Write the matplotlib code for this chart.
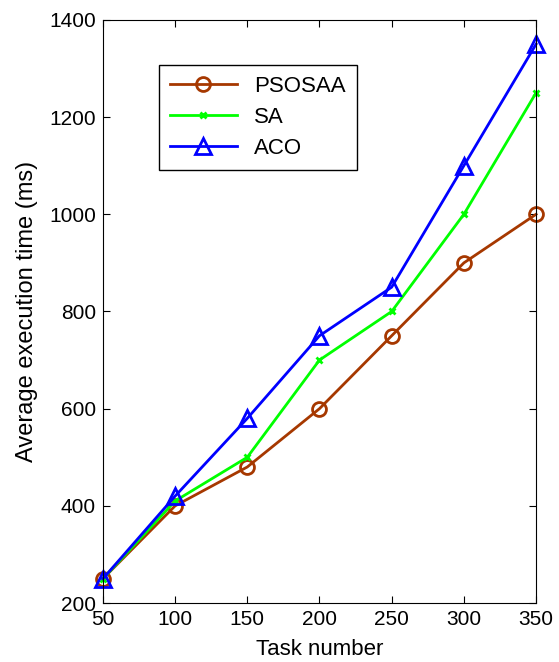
import numpy as np
import matplotlib
matplotlib.use("Agg")
import matplotlib.pyplot as plt

plt.rcParams['font.family'] = ['Liberation Sans', 'DejaVu Sans']

task_number = [50, 100, 150, 200, 250, 300, 350]
psosaa = [250, 400, 480, 600, 750, 900, 1000]
sa = [250, 410, 500, 700, 800, 1000, 1250]
aco = [250, 420, 580, 750, 850, 1100, 1350]

fig = plt.figure(figsize=(5.59, 6.62), dpi=100)
ax = fig.add_axes([0.184, 0.089, 0.775, 0.881])

ax.plot(task_number, psosaa, color=(0.65, 0.22, 0.0), lw=2, marker='o', ms=10,
        mfc='none', mew=2, label='PSOSAA', clip_on=False)
ax.plot(task_number, sa, color=(0.0, 1.0, 0.0), lw=2, marker='x', ms=5,
        mew=2, label='SA', clip_on=False)
ax.plot(task_number, aco, color=(0.0, 0.0, 1.0), lw=2, marker='^', ms=11,
        mfc='none', mew=2, label='ACO', clip_on=False)

ax.set_xlim(50, 350)
ax.set_ylim(200, 1400)
ax.set_xticks(np.arange(50, 351, 50))
ax.set_yticks(np.arange(200, 1401, 200))
ax.tick_params(direction='in', top=True, right=True, labelsize=15, length=5, pad=5)
ax.set_xlabel('Task number', fontsize=16, labelpad=7)
ax.set_ylabel('Average execution time (ms)', fontsize=17, labelpad=8)

leg = ax.legend(loc='upper left', bbox_to_anchor=(0.129, 0.923), fontsize=16,
                fancybox=False, edgecolor='black', framealpha=1, borderaxespad=0,
                handlelength=3.0, borderpad=0.5, labelspacing=0.45)
leg.get_frame().set_linewidth(1)

fig.savefig('out.png', dpi=100)
